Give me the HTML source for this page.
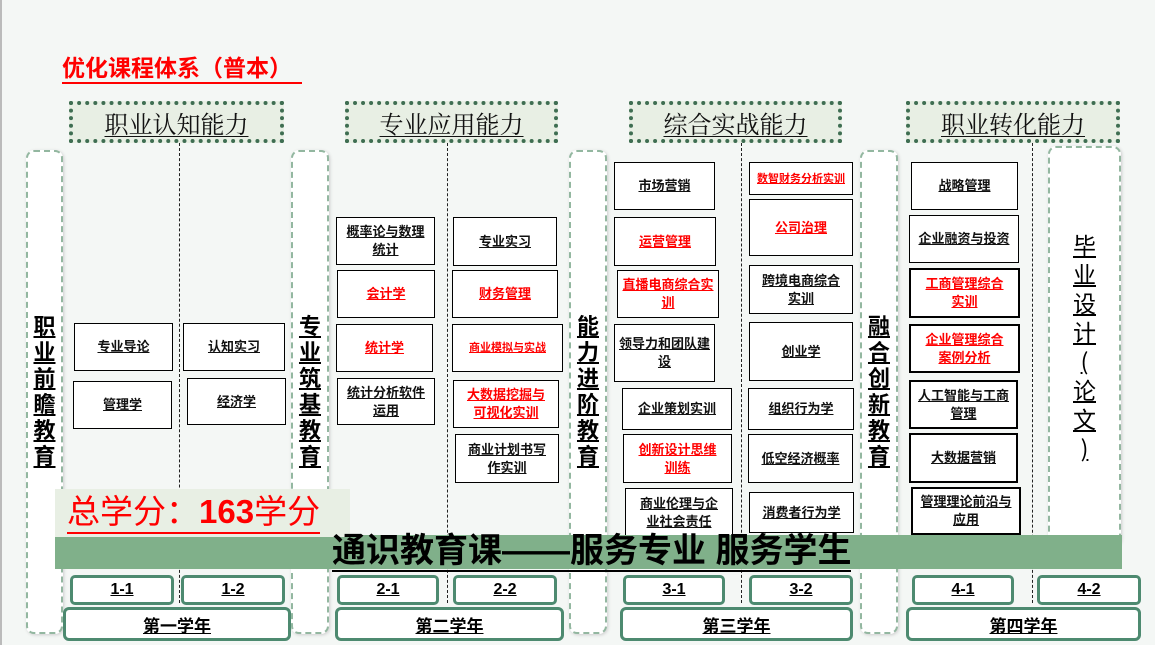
<!DOCTYPE html>
<html><head><meta charset="utf-8"><style>
*{margin:0;padding:0;box-sizing:border-box}
body{width:1155px;height:645px;background:#f4f7f5;position:relative;overflow:hidden;font-family:"Liberation Sans","Noto Sans CJK SC",sans-serif}
.a{position:absolute}
.hd{position:absolute;height:42px;top:101px;background:#e8efe4;border:4px dotted #3f6e52;display:flex;align-items:center;justify-content:center;font-size:24px;color:#111;text-decoration:underline;text-decoration-thickness:1px;text-underline-offset:3px;font-family:"Noto Serif CJK SC","Liberation Serif",serif}
.pl{position:absolute;top:150px;height:484px;background:#fff;border:2px dashed #93b7a0;border-radius:8px;display:flex;justify-content:center;align-items:center;box-shadow:1px 1px 3px #ccc}
.pl span{display:block;width:26px;font-size:22px;font-weight:bold;line-height:26px;text-align:center;text-decoration:underline;color:#000}
.pl .v{width:40px;font-weight:normal;font-size:23px;line-height:29px;font-family:'Noto Sans CJK SC',sans-serif;white-space:nowrap}
.dl{position:absolute;width:0;border-left:1px dashed #222;top:143px;height:460px}
.b{position:absolute;background:#fff;border:1px solid #000;display:flex;align-items:center;justify-content:center;text-align:center;font-size:13px;font-weight:bold;line-height:18px;text-decoration:underline;padding:0;color:#111;white-space:nowrap}
.t{border-width:2.5px}
.r{color:#f00}
.s{font-size:11px}
.sm{position:absolute;top:575px;height:30px;background:#fff;border:3px solid #4d8a70;border-radius:5px;display:flex;align-items:center;justify-content:center;font-size:16px;font-weight:bold;text-decoration:underline}
.yr{position:absolute;top:607px;height:34px;background:#fff;border:3px solid #4d8a70;border-radius:6px;display:flex;align-items:center;justify-content:center;font-size:17px;font-weight:bold;text-decoration:underline}
</style></head><body>
<div class="a" style="left:0;top:0;width:2px;height:645px;background:#bbb"></div>
<div class="a" style="left:62px;top:54px;width:240px;font-size:23px;font-weight:bold;color:#f00;border-bottom:2px solid #f00;line-height:28px;height:30px;white-space:nowrap">优化课程体系（普本）</div>

<div class="hd" style="left:69px;width:215px">职业认知能力</div>
<div class="hd" style="left:345px;width:213px">专业应用能力</div>
<div class="hd" style="left:629px;width:213px">综合实战能力</div>
<div class="hd" style="left:906px;width:214px">职业转化能力</div>

<div class="dl" style="left:179px"></div>
<div class="dl" style="left:447px"></div>
<div class="dl" style="left:741px"></div>
<div class="dl" style="left:1032px"></div>

<div class="pl" style="left:26px;width:37px"><span>职业前瞻教育</span></div>
<div class="pl" style="left:291px;width:38px"><span>专业筑基教育</span></div>
<div class="pl" style="left:569px;width:38px"><span>能力进阶教育</span></div>
<div class="pl" style="left:860px;width:38px"><span>融合创新教育</span></div>
<div class="pl" style="left:1048px;width:73px;top:146px;height:400px"><span class="v">毕<br>业<br>设<br>计<br>(<br>论<br>文<br>)</span></div>

<div class="b" style="left:74px;top:323px;width:99px;height:48px">专业导论</div>
<div class="b" style="left:183px;top:323px;width:102px;height:48px">认知实习</div>
<div class="b" style="left:73px;top:381px;width:99px;height:48px">管理学</div>
<div class="b" style="left:187px;top:378px;width:99px;height:47px">经济学</div>

<div class="b" style="left:336px;top:217px;width:99px;height:48px">概率论与数理<br>统计</div>
<div class="b r" style="left:337px;top:270px;width:98px;height:48px">会计学</div>
<div class="b r" style="left:336px;top:324px;width:97px;height:48px">统计学</div>
<div class="b" style="left:337px;top:378px;width:98px;height:47px">统计分析软件<br>运用</div>
<div class="b" style="left:453px;top:217px;width:104px;height:49px">专业实习</div>
<div class="b r" style="left:452px;top:270px;width:106px;height:48px">财务管理</div>
<div class="b r s" style="left:452px;top:324px;width:111px;height:48px">商业模拟与实战</div>
<div class="b r" style="left:453px;top:380px;width:106px;height:48px">大数据挖掘与<br>可视化实训</div>
<div class="b" style="left:455px;top:434px;width:104px;height:49px">商业计划书写<br>作实训</div>

<div class="b" style="left:614px;top:162px;width:101px;height:48px">市场营销</div>
<div class="b r" style="left:614px;top:217px;width:102px;height:49px">运营管理</div>
<div class="b r" style="left:617px;top:270px;width:102px;height:48px">直播电商综合实<br>训</div>
<div class="b" style="left:614px;top:324px;width:101px;height:58px">领导力和团队建<br>设</div>
<div class="b" style="left:622px;top:388px;width:110px;height:42px">企业策划实训</div>
<div class="b r" style="left:623px;top:434px;width:109px;height:49px">创新设计思维<br>训练</div>
<div class="b" style="left:625px;top:488px;width:108px;height:49px">商业伦理与企<br>业社会责任</div>
<div class="b r s" style="left:749px;top:162px;width:104px;height:33px">数智财务分析实训</div>
<div class="b r" style="left:749px;top:199px;width:104px;height:57px">公司治理</div>
<div class="b" style="left:749px;top:265px;width:104px;height:49px">跨境电商综合<br>实训</div>
<div class="b" style="left:749px;top:322px;width:104px;height:59px">创业学</div>
<div class="b" style="left:748px;top:388px;width:106px;height:42px">组织行为学</div>
<div class="b" style="left:748px;top:434px;width:105px;height:49px">低空经济概率</div>
<div class="b" style="left:749px;top:492px;width:105px;height:41px">消费者行为学</div>

<div class="b" style="left:911px;top:162px;width:107px;height:48px">战略管理</div>
<div class="b" style="left:909px;top:215px;width:110px;height:48px">企业融资与投资</div>
<div class="b t r" style="left:909px;top:268px;width:111px;height:50px">工商管理综合<br>实训</div>
<div class="b t r" style="left:909px;top:324px;width:111px;height:49px">企业管理综合<br>案例分析</div>
<div class="b t" style="left:909px;top:380px;width:109px;height:49px">人工智能与工商<br>管理</div>
<div class="b t" style="left:909px;top:433px;width:109px;height:50px">大数据营销</div>
<div class="b t" style="left:911px;top:487px;width:110px;height:48px">管理理论前沿与<br>应用</div>

<div class="a" style="left:55px;top:535px;width:1067px;height:34px;background:#80b08a"></div>
<div class="a" style="left:55px;top:489px;width:295px;height:48px;background:#e8efe4"></div>
<div class="a" style="left:67px;top:492px;font-size:33px;color:#f00;line-height:40px;border-bottom:2px solid #f00;white-space:nowrap">总学分：<b>163</b>学分</div>
<div class="a" style="left:332px;top:532px;font-size:34px;font-weight:bold;line-height:38px;color:#000;border-bottom:2px solid #000;white-space:nowrap">通识教育课——服务专业 服务学生</div>

<div class="sm" style="left:70px;width:104px">1-1</div>
<div class="sm" style="left:181px;width:104px">1-2</div>
<div class="sm" style="left:337px;width:102px">2-1</div>
<div class="sm" style="left:453px;width:104px">2-2</div>
<div class="sm" style="left:623px;width:102px">3-1</div>
<div class="sm" style="left:749px;width:104px">3-2</div>
<div class="sm" style="left:912px;width:102px">4-1</div>
<div class="sm" style="left:1037px;width:104px">4-2</div>

<div class="yr" style="left:63px;width:228px">第一学年</div>
<div class="yr" style="left:335px;width:229px">第二学年</div>
<div class="yr" style="left:620px;width:233px">第三学年</div>
<div class="yr" style="left:906px;width:235px">第四学年</div>
</body></html>
